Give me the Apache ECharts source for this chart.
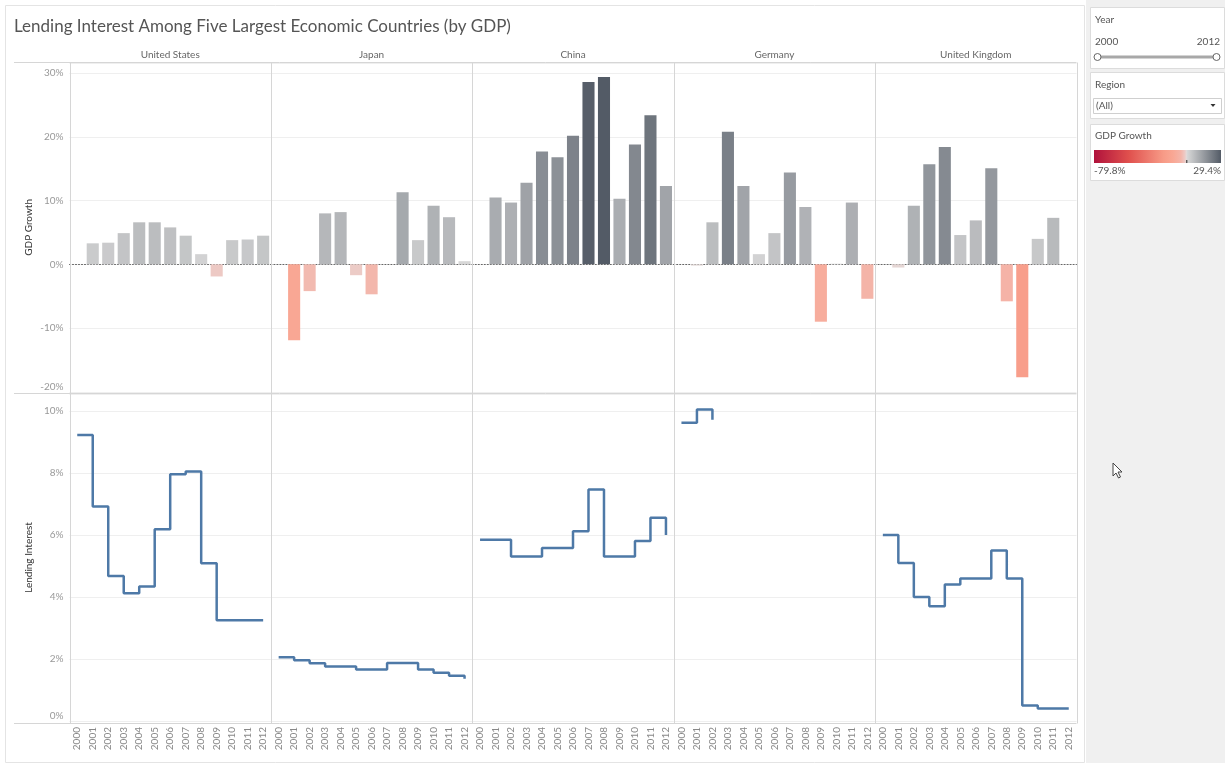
<!DOCTYPE html>
<html>
<head>
<meta charset="utf-8">
<script src="https://cdn.jsdelivr.net/npm/echarts@6.0.0/dist/echarts.min.js"></script>
<style>
html,body{margin:0;padding:0;background:#fff;}
#c{width:1225px;height:763px;}
</style>
</head>
<body>
<div id="c"></div>
<script>
// ---------- data ----------
const years = ['2000','2001','2002','2003','2004','2005','2006','2007','2008','2009','2010','2011','2012'];
const countries = ['United States','Japan','China','Germany','United Kingdom'];

// GDP growth (%) per year
const gdpUS      = [null, 3.3, 3.4, 4.9, 6.6, 6.6, 5.8, 4.5, 1.6, -1.9, 3.8, 3.9, 4.5];
const gdpJapan   = [null, -11.9, -4.2, 8.0, 8.2, -1.7, -4.7, null, 11.3, 3.8, 9.2, 7.4, 0.5];
const gdpChina   = [null, 10.5, 9.7, 12.8, 17.7, 16.8, 20.2, 28.6, 29.4, 10.3, 18.8, 23.4, 12.3];
const gdpGermany = [null, -0.2, 6.6, 20.8, 12.3, 1.6, 4.9, 14.4, 9.0, -9.0, 0.1, 9.7, -5.4];
const gdpUK      = [null, -0.5, 9.2, 15.7, 18.4, 4.6, 6.9, 15.1, -5.8, -17.7, 4.0, 7.3, null];

// Lending interest (%) per year
const lendUS      = [9.23, 6.92, 4.68, 4.12, 4.34, 6.19, 7.96, 8.05, 5.09, 3.25, 3.25, 3.25, 3.25];
const lendJapan   = [2.06, 1.96, 1.86, 1.76, 1.76, 1.66, 1.66, 1.87, 1.87, 1.66, 1.56, 1.46, 1.36];
const lendChina   = [5.85, 5.85, 5.31, 5.31, 5.58, 5.58, 6.12, 7.47, 5.31, 5.31, 5.81, 6.56, 6.0];
const lendGermany = [9.62, 10.05, 9.72, null, null, null, null, null, null, null, null, null, null];
const lendUK      = [6.0, 5.1, 4.0, 3.7, 4.4, 4.6, 4.6, 5.5, 4.6, 0.5, 0.4, 0.4, 0.4];

// GDP growth colour legend range
const legendMin = -79.8;
const legendMax = 29.4;
const legendLabels = ['-79.8%', '29.4%'];

const gdpSeries = [gdpUS, gdpJapan, gdpChina, gdpGermany, gdpUK];
const lendSeries = [lendUS, lendJapan, lendChina, lendGermany, lendUK];

// ---------- styling ----------
const FONT = 'Lato, "Open Sans", "Noto Sans", sans-serif';
const L0 = 69.5, CW = 201.4;
const TOP1 = 63, H1 = 328.8;
const TOP2 = 394, H2 = 327;

const colorStops = [
  [-79.8, '#b0123c'], [-50, '#e0504d'], [-20, '#f79b87'], [-12, '#f9a794'],
  [-5, '#f4b5a9'], [-2, '#eec8c3'], [0, '#e2dbda'], [0.001, '#d9d9d9'], [29.4, '#535b66']
];
function hex2rgb(h) { return [parseInt(h.substr(1,2),16), parseInt(h.substr(3,2),16), parseInt(h.substr(5,2),16)]; }
function colorFor(v) {
  if (v == null) return '#ccc';
  if (v <= colorStops[0][0]) return colorStops[0][1];
  for (let k = 1; k < colorStops.length; k++) {
    if (v <= colorStops[k][0]) {
      const [v0, c0] = colorStops[k-1], [v1, c1] = colorStops[k];
      const t = (v - v0) / (v1 - v0);
      const a = hex2rgb(c0), b = hex2rgb(c1);
      const m = a.map((x, j) => Math.round(x + (b[j] - x) * t));
      return 'rgb(' + m.join(',') + ')';
    }
  }
  return colorStops[colorStops.length-1][1];
}
// drop trailing empty years so the step line stops at the last reported year
function trimTrailingNulls(arr) {
  let n = arr.length;
  while (n > 0 && arr[n - 1] == null) n--;
  return arr.slice(0, n);
}

const grid = [], xAxis = [], yAxis = [], series = [];
for (let r = 0; r < 2; r++) {
  for (let i = 0; i < 5; i++) {
    const g = r * 5 + i;
    grid.push({ left: L0 + i * CW, width: CW, top: r ? TOP2 : TOP1, height: r ? H2 : H1 });
    xAxis.push({
      type: 'category', gridIndex: g, data: years, boundaryGap: true,
      axisTick: { show: false },
      axisLine: r === 0 ? { show: true, onZero: true, lineStyle: { color: '#666', type: [1, 2], width: 1 } } : { show: false },
      axisLabel: r === 1 ? { show: true, rotate: 90, fontSize: 10, color: '#888', margin: 6, fontFamily: FONT, interval: 0 } : { show: false },
      splitLine: { show: false }
    });
    yAxis.push({
      type: 'value', gridIndex: g,
      min: r ? 0 : -20, max: r ? 10.55 : 31.6, interval: r ? 2 : 10,
      axisLine: { show: false }, axisTick: { show: false },
      splitLine: { show: true, lineStyle: { color: '#efefef', width: 1 } },
      axisLabel: { show: i === 0, formatter: '{value}%', color: '#999', fontSize: 10, margin: 6,
                   showMaxLabel: false, fontFamily: FONT, verticalAlignMinLabel: 'bottom' },
      name: i === 0 ? (r ? 'Lending Interest' : 'GDP Growth') : '',
      nameLocation: 'middle', nameRotate: 90, nameGap: 36,
      nameTextStyle: { color: '#333', fontSize: 10, fontFamily: FONT }
    });
  }
}
for (let i = 0; i < 5; i++) {
  series.push({
    type: 'bar', xAxisIndex: i, yAxisIndex: i, data: gdpSeries[i], barWidth: '78%',
    itemStyle: { color: p => colorFor(p.value) }, silent: true
  });
  series.push({
    type: 'line', xAxisIndex: 5 + i, yAxisIndex: 5 + i, data: trimTrailingNulls(lendSeries[i]), step: 'end',
    symbol: 'none', connectNulls: false, lineStyle: { color: '#4e79a7', width: 2.5 }, silent: true
  });
}

// ---------- frame / side panel graphics ----------
const gfx = [];
gfx.push({ type: 'rect', shape: { x: 5.5, y: 5.5, width: 1079, height: 757 }, style: { fill: 'none', stroke: '#e4e4e4', lineWidth: 1 }, z: 0 });
gfx.push({ type: 'rect', shape: { x: 1086, y: 0, width: 139, height: 763 }, style: { fill: '#f0f0f0' }, z: 0 });
[62.5, 393.5, 723.5].forEach(y => gfx.push({ type: 'line', shape: { x1: 14, y1: y, x2: L0 + 5 * CW, y2: y }, style: { stroke: '#d6d6d6', lineWidth: 1 }, z: 10 }));
for (let i = 0; i <= 5; i++) {
  const x = Math.round(L0 + i * CW) + 0.5;
  gfx.push({ type: 'line', shape: { x1: x, y1: 62.5, x2: x, y2: 723.5 }, style: { stroke: '#d6d6d6', lineWidth: 1 }, z: 10 });
}
countries.forEach((c, i) => gfx.push({ type: 'text', x: L0 + (i + 0.5) * CW, y: 55,
  style: { text: c, fill: '#666', font: '10px ' + FONT, textAlign: 'center', textVerticalAlign: 'middle' }, z: 10 }));

// Year filter box
gfx.push({ type: 'rect', shape: { x: 1090.5, y: 7.5, width: 134, height: 61 }, style: { fill: '#fff', stroke: '#dcdcdc' }, z: 5 });
gfx.push({ type: 'text', x: 1095, y: 20, style: { text: 'Year', fill: '#555', font: '10px ' + FONT, textVerticalAlign: 'middle' }, z: 6 });
gfx.push({ type: 'text', x: 1095, y: 41.5, style: { text: years[0], fill: '#555', font: '10px ' + FONT, textVerticalAlign: 'middle' }, z: 6 });
gfx.push({ type: 'text', x: 1220, y: 41.5, style: { text: years[years.length - 1], fill: '#555', font: '10px ' + FONT, textAlign: 'right', textVerticalAlign: 'middle' }, z: 6 });
gfx.push({ type: 'line', shape: { x1: 1097, y1: 57, x2: 1216, y2: 57 }, style: { stroke: '#a8a8a8', lineWidth: 3 }, z: 6 });
gfx.push({ type: 'circle', shape: { cx: 1097.5, cy: 57, r: 3.5 }, style: { fill: '#fff', stroke: '#666', lineWidth: 1 }, z: 7 });
gfx.push({ type: 'circle', shape: { cx: 1216.5, cy: 57, r: 3.5 }, style: { fill: '#fff', stroke: '#666', lineWidth: 1 }, z: 7 });

// Region filter box
gfx.push({ type: 'rect', shape: { x: 1090.5, y: 72.5, width: 134, height: 46 }, style: { fill: '#fff', stroke: '#dcdcdc' }, z: 5 });
gfx.push({ type: 'text', x: 1095, y: 85, style: { text: 'Region', fill: '#555', font: '10px ' + FONT, textVerticalAlign: 'middle' }, z: 6 });
gfx.push({ type: 'rect', shape: { x: 1093.5, y: 98.5, width: 128, height: 15 }, style: { fill: '#fff', stroke: '#cfcfcf' }, z: 6 });
gfx.push({ type: 'text', x: 1096, y: 106, style: { text: '(All)', fill: '#555', font: '10px ' + FONT, textVerticalAlign: 'middle' }, z: 7 });
gfx.push({ type: 'polygon', shape: { points: [[1210.5, 104], [1215.5, 104], [1213, 107]] }, style: { fill: '#333' }, z: 7 });

// GDP Growth legend box
gfx.push({ type: 'rect', shape: { x: 1090.5, y: 124.5, width: 134, height: 56 }, style: { fill: '#fff', stroke: '#dcdcdc' }, z: 5 });
gfx.push({ type: 'text', x: 1095, y: 136, style: { text: 'GDP Growth', fill: '#555', font: '10px ' + FONT, textVerticalAlign: 'middle' }, z: 6 });
const gradStops = colorStops.map(([v, c]) => ({ offset: (v - legendMin) / (legendMax - legendMin), color: c }));
gfx.push({ type: 'rect', shape: { x: 1094, y: 150, width: 127, height: 13 },
  style: { fill: new echarts.graphic.LinearGradient(0, 0, 1, 0, gradStops) }, z: 6 });
const zeroX = 1094 + 127 * (0 - legendMin) / (legendMax - legendMin);
gfx.push({ type: 'line', shape: { x1: zeroX, y1: 160, x2: zeroX, y2: 163 }, style: { stroke: '#222', lineWidth: 1 }, z: 7 });
gfx.push({ type: 'text', x: 1094, y: 171, style: { text: legendLabels[0], fill: '#555', font: '10px ' + FONT, textVerticalAlign: 'middle' }, z: 6 });
gfx.push({ type: 'text', x: 1221, y: 171, style: { text: legendLabels[1], fill: '#555', font: '10px ' + FONT, textAlign: 'right', textVerticalAlign: 'middle' }, z: 6 });

// mouse cursor
gfx.push({ type: 'polygon', x: 1113, y: 463,
  shape: { points: [[0, 0], [0, 13], [3, 10], [5.5, 15], [7.5, 14], [5, 9], [9, 9]] },
  style: { fill: '#fff', stroke: '#444', lineWidth: 1 }, z: 8 });

const chart = echarts.init(document.getElementById('c'), null, { renderer: 'canvas' });
chart.setOption({
  animation: false,
  backgroundColor: '#fff',
  textStyle: { fontFamily: FONT },
  title: {
    text: 'Lending Interest Among Five Largest Economic Countries (by GDP)',
    left: 14, top: 18, padding: 0,
    textStyle: { fontSize: 17, fontWeight: 'normal', color: '#555', fontFamily: FONT }
  },
  grid, xAxis, yAxis, series,
  graphic: gfx
});
</script>
</body>
</html>
